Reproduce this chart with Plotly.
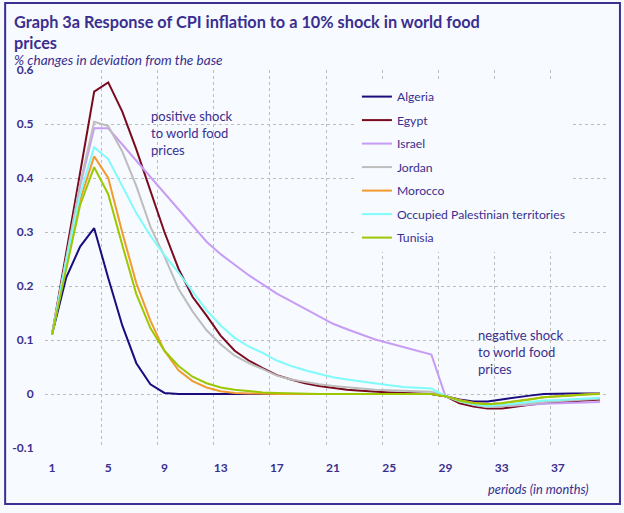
import plotly.graph_objects as go

periods = list(range(1, 41))

algeria = [0.11, 0.215, 0.273, 0.307, 0.215, 0.127, 0.057, 0.018, 0.002, 0.0,
           0.0, 0.0, 0.0, 0.0, 0.0, 0.0, 0.0, 0.0, 0.0, 0.0,
           0.0, 0.0, 0.0, 0.0, 0.0, 0.0, 0.0, 0.0, -0.004, -0.010,
           -0.014, -0.014, -0.010, -0.006, -0.003, 0.0, 0.001, 0.001, 0.001, 0.001]
egypt = [0.11, 0.26, 0.41, 0.56, 0.577, 0.523, 0.453, 0.378, 0.30, 0.232,
         0.18, 0.145, 0.108, 0.08, 0.062, 0.048, 0.035, 0.027, 0.02, 0.015,
         0.011, 0.008, 0.006, 0.004, 0.003, 0.002, 0.001, 0.0, -0.004, -0.017,
         -0.023, -0.027, -0.027, -0.023, -0.020, -0.017, -0.015, -0.014, -0.011, -0.010]
israel = [0.11, 0.25, 0.385, 0.492, 0.492, 0.462, 0.432, 0.402, 0.37, 0.34,
          0.31, 0.282, 0.259, 0.24, 0.22, 0.203, 0.186, 0.172, 0.158, 0.143,
          0.13, 0.12, 0.111, 0.101, 0.094, 0.087, 0.08, 0.073, -0.004, -0.012,
          -0.020, -0.024, -0.023, -0.022, -0.020, -0.018, -0.017, -0.016, -0.015, -0.015]
jordan = [0.11, 0.25, 0.39, 0.504, 0.496, 0.449, 0.385, 0.31, 0.255, 0.195,
          0.153, 0.118, 0.092, 0.071, 0.057, 0.046, 0.034, 0.027, 0.022, 0.018,
          0.015, 0.012, 0.010, 0.008, 0.007, 0.006, 0.005, 0.004, -0.004, -0.014,
          -0.020, -0.024, -0.023, -0.021, -0.018, -0.015, -0.013, -0.011, -0.010, -0.009]
morocco = [0.11, 0.24, 0.36, 0.44, 0.40, 0.299, 0.205, 0.136, 0.08, 0.044,
           0.024, 0.012, 0.005, 0.002, 0.001, 0.0, 0.0, 0.0, 0.0, 0.0,
           0.0, 0.0, 0.0, 0.0, 0.0, 0.0, 0.0, 0.0, -0.004, -0.011,
           -0.016, -0.019, -0.017, -0.013, -0.009, -0.006, -0.004, -0.002, -0.001, 0.001]
opt = [0.11, 0.245, 0.37, 0.457, 0.435, 0.385, 0.335, 0.293, 0.257, 0.225,
       0.19, 0.155, 0.127, 0.104, 0.088, 0.076, 0.062, 0.052, 0.044, 0.038,
       0.031, 0.027, 0.023, 0.019, 0.016, 0.013, 0.011, 0.010, -0.004, -0.013,
       -0.019, -0.022, -0.020, -0.017, -0.014, -0.012, -0.011, -0.010, -0.008, -0.007]
tunisia = [0.11, 0.23, 0.35, 0.42, 0.37, 0.276, 0.185, 0.122, 0.08, 0.052,
           0.032, 0.02, 0.012, 0.008, 0.005, 0.003, 0.002, 0.001, 0.0, 0.0,
           0.0, 0.0, 0.0, 0.0, 0.0, 0.0, 0.0, 0.0, -0.004, -0.012,
           -0.017, -0.019, -0.017, -0.014, -0.010, -0.006, -0.005, -0.003, -0.001, 0.0]

series_names = ["Algeria", "Egypt", "Israel", "Jordan", "Morocco",
                "Occupied Palestinian territories", "Tunisia"]
series_values = [algeria, egypt, israel, jordan, morocco, opt, tunisia]
series_colors = ["#1B0C7E", "#7A0A1E", "#C79CF5", "#BDBDBD", "#F09A30", "#7FFBFB", "#9CC800"]

x_tickvals = [1, 5, 9, 13, 17, 21, 25, 29, 33, 37]
x_ticktext = ["1", "5", "9", "13", "17", "21", "25", "29", "33", "37"]
x_gridvals = [0.5 + 4 * i for i in range(11)]
y_tickvals = [-0.1, 0, 0.1, 0.2, 0.3, 0.4, 0.5, 0.6]
y_ticktext = ["-0.1", "0", "0.1", "0.2", "0.3", "0.4", "0.5", "0.6"]

TXT = "#3A2F8F"
BG = "#F7FAFE"
GRID = "#BDBDBD"
FONT = "Lato"

fig = go.Figure()
for i, (name, vals, col) in enumerate(zip(series_names, series_values, series_colors)):
    fig.add_trace(go.Scatter(x=periods, y=vals, mode="lines", name=name,
                             legendgroup=f"g{i}",
                             line=dict(color=col, width=2)))

fig.update_layout(
    width=624, height=513,
    margin=dict(l=43, r=17, t=70, b=65),
    paper_bgcolor=BG, plot_bgcolor=BG,
    font=dict(family=FONT, color=TXT),
    showlegend=True,
    legend=dict(x=0.555, y=0.968, xanchor="left", yanchor="top",
                bgcolor=BG, borderwidth=0, tracegroupgap=4.5,
                font=dict(family=FONT, size=12.2, color=TXT)),
    xaxis=dict(range=[0.5, 40.5], tickmode="array", tickvals=x_tickvals, ticktext=x_ticktext,
               showgrid=False, zeroline=False, showline=False,
               ticks="outside", ticklen=9, tickcolor="rgba(0,0,0,0)",
               tickfont=dict(family=FONT, size=12, color=TXT, weight="bold"),
               minor=dict(tickmode="array", tickvals=x_gridvals, showgrid=True,
                          gridcolor=GRID, griddash="3px,3px", gridwidth=1, ticks="")),
    yaxis=dict(range=[-0.1, 0.6], tickmode="array", tickvals=y_tickvals, ticktext=y_ticktext,
               showgrid=True, gridcolor=GRID, griddash="3px,3px", gridwidth=1,
               zeroline=False, showline=False,
               ticks="outside", ticklen=8, tickcolor="rgba(0,0,0,0)",
               tickfont=dict(family=FONT, size=12, color=TXT, weight="bold")),
)

fig.add_annotation(text="<b>Graph 3a Response of CPI inflation to a 10% shock in world food<br>prices</b>",
                   xref="paper", yref="paper", x=(10 - 43) / 564, y=(448 - 10) / 378,
                   xanchor="left", yanchor="top", align="left", showarrow=False,
                   font=dict(family=FONT, size=16.3, color=TXT))
fig.add_annotation(text="<i>% changes in deviation from the base</i>",
                   xref="paper", yref="paper", x=(10 - 43) / 564, y=(448 - 60) / 378,
                   xanchor="left", yanchor="middle", showarrow=False,
                   font=dict(family=FONT, size=13.6, color=TXT))
fig.add_annotation(text="positive shock<br>to world food<br>prices",
                   xref="paper", yref="paper", x=(147 - 43) / 564, y=(448 - 106) / 378,
                   xanchor="left", yanchor="top", align="left", showarrow=False,
                   font=dict(family=FONT, size=13, color=TXT))
fig.add_annotation(text="negative shock<br>to world food<br>prices",
                   xref="paper", yref="paper", x=(476 - 43) / 564, y=(448 - 325) / 378,
                   xanchor="left", yanchor="top", align="left", showarrow=False,
                   font=dict(family=FONT, size=13, color=TXT))
fig.add_annotation(text="<i>periods (in months)</i>",
                   xref="paper", yref="paper", x=(591 - 43) / 564, y=(448 - 489) / 378,
                   xanchor="right", yanchor="middle", showarrow=False,
                   font=dict(family=FONT, size=12.8, color=TXT))

fig.add_shape(type="rect", xref="paper", yref="paper",
              x0=(3 - 43) / 564, x1=(620 - 43) / 564,
              y0=(448 - 504) / 378, y1=(448 - 3) / 378,
              line=dict(color="#3B3092", width=2), fillcolor="rgba(0,0,0,0)", layer="above")

fig.write_html("out.html")
